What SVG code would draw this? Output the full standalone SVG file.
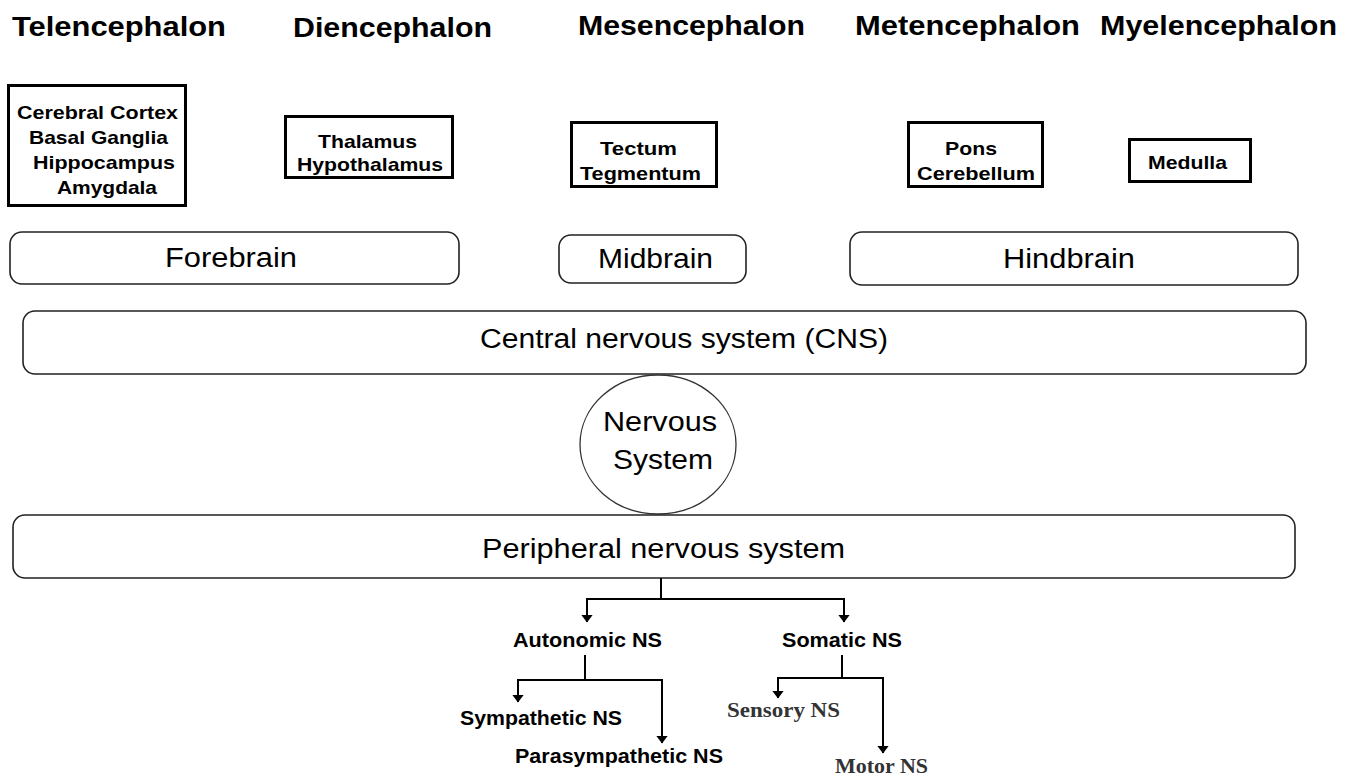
<svg xmlns="http://www.w3.org/2000/svg" width="1357" height="776" viewBox="0 0 1357 776">
<style>
.hdr{font-family:"Liberation Sans",Arial,sans-serif;font-weight:bold;font-size:27px;fill:#000}
.bx{fill:#fff;stroke:#000;stroke-width:3}
.bt{font-family:"Liberation Sans",Arial,sans-serif;font-weight:bold;font-size:19px;fill:#000;text-anchor:start}
.rb{fill:#fff;stroke:#222;stroke-width:1.6}
.rt{font-family:"Liberation Sans",Arial,sans-serif;font-size:27px;fill:#000}
.ln{fill:none;stroke:#000;stroke-width:2}
.lt{font-family:"Liberation Sans",Arial,sans-serif;font-weight:bold;font-size:20px;fill:#000}
.st{font-family:"Liberation Serif","Times New Roman",serif;font-weight:bold;font-size:20px;fill:#333}
</style>
<defs>
<marker id="ah" viewBox="0 0 8 12" refX="7.5" refY="6" markerWidth="8" markerHeight="12" markerUnits="userSpaceOnUse" orient="auto">
<path d="M0,0 L8,6 L0,12 Z" fill="#000"/>
</marker>
</defs>
<rect width="1357" height="776" fill="#fff"/>

<g id="headers">
<text class="hdr" x="12" y="36" textLength="214" lengthAdjust="spacingAndGlyphs">Telencephalon</text>
<text class="hdr" x="293" y="37" textLength="199" lengthAdjust="spacingAndGlyphs">Diencephalon</text>
<text class="hdr" x="578" y="35" textLength="227" lengthAdjust="spacingAndGlyphs">Mesencephalon</text>
<text class="hdr" x="855" y="35" textLength="225" lengthAdjust="spacingAndGlyphs">Metencephalon</text>
<text class="hdr" x="1100" y="35" textLength="237" lengthAdjust="spacingAndGlyphs">Myelencephalon</text>
</g>

<g id="telencephalon-box">
<rect class="bx" x="8.5" y="85.5" width="177" height="120"/>
<text class="bt" x="17" y="119" textLength="161" lengthAdjust="spacingAndGlyphs">Cerebral Cortex</text>
<text class="bt" x="29" y="144" textLength="139" lengthAdjust="spacingAndGlyphs">Basal Ganglia</text>
<text class="bt" x="33" y="169" textLength="142" lengthAdjust="spacingAndGlyphs">Hippocampus</text>
<text class="bt" x="57" y="194" textLength="100" lengthAdjust="spacingAndGlyphs">Amygdala</text>
</g>

<g id="diencephalon-box">
<rect class="bx" x="285.5" y="116.5" width="167" height="61"/>
<text class="bt" x="318" y="148" textLength="99" lengthAdjust="spacingAndGlyphs">Thalamus</text>
<text class="bt" x="297" y="171" textLength="146" lengthAdjust="spacingAndGlyphs">Hypothalamus</text>
</g>

<g id="mesencephalon-box">
<rect class="bx" x="571.5" y="122.5" width="145" height="64"/>
<text class="bt" x="600" y="155" textLength="77" lengthAdjust="spacingAndGlyphs">Tectum</text>
<text class="bt" x="580" y="180" textLength="121" lengthAdjust="spacingAndGlyphs">Tegmentum</text>
</g>

<g id="metencephalon-box">
<rect class="bx" x="908.5" y="122.5" width="134" height="64"/>
<text class="bt" x="945" y="155" textLength="52" lengthAdjust="spacingAndGlyphs">Pons</text>
<text class="bt" x="917" y="180" textLength="118" lengthAdjust="spacingAndGlyphs">Cerebellum</text>
</g>

<g id="myelencephalon-box">
<rect class="bx" x="1129.5" y="139.5" width="121" height="42"/>
<text class="bt" x="1148" y="169" textLength="79" lengthAdjust="spacingAndGlyphs">Medulla</text>
</g>

<g id="forebrain">
<rect class="rb" x="10" y="232" width="449" height="52" rx="12"/>
<text class="rt" x="165" y="267" textLength="132" lengthAdjust="spacingAndGlyphs">Forebrain</text>
</g>

<g id="midbrain">
<rect class="rb" x="559" y="235" width="187" height="48" rx="12"/>
<text class="rt" x="598" y="268" textLength="115" lengthAdjust="spacingAndGlyphs">Midbrain</text>
</g>

<g id="hindbrain">
<rect class="rb" x="850" y="232" width="448" height="53" rx="12"/>
<text class="rt" x="1003" y="268" textLength="132" lengthAdjust="spacingAndGlyphs">Hindbrain</text>
</g>

<g id="cns">
<rect class="rb" x="23" y="311" width="1283" height="63" rx="12"/>
<text class="rt" x="480" y="348" textLength="408" lengthAdjust="spacingAndGlyphs">Central nervous system (CNS)</text>
</g>

<g id="nervous-system">
<ellipse cx="658" cy="444.5" rx="78" ry="69.5" fill="#fff" stroke="#333" stroke-width="1.3"/>
<text class="rt" x="603" y="431" textLength="114" lengthAdjust="spacingAndGlyphs">Nervous</text>
<text class="rt" x="613" y="469" textLength="100" lengthAdjust="spacingAndGlyphs">System</text>
</g>

<g id="pns">
<rect class="rb" x="13" y="515" width="1282" height="63" rx="12"/>
<text class="rt" x="482" y="558" textLength="363" lengthAdjust="spacingAndGlyphs">Peripheral nervous system</text>
</g>

<g id="connectors">
<path class="ln" d="M661,578 V599 M586,599 H845"/>
<path class="ln" d="M587,599 V622" marker-end="url(#ah)"/>
<path class="ln" d="M844,599 V622" marker-end="url(#ah)"/>
<path class="ln" d="M585,655 V680 M517,680 H663"/>
<path class="ln" d="M518,680 V702" marker-end="url(#ah)"/>
<path class="ln" d="M662,680 V743" marker-end="url(#ah)"/>
<path class="ln" d="M842,655 V678 M777,678 H884"/>
<path class="ln" d="M778,678 V698" marker-end="url(#ah)"/>
<path class="ln" d="M883,678 V753" marker-end="url(#ah)"/>
</g>

<g id="autonomic">
<text class="lt" x="513" y="647" textLength="149" lengthAdjust="spacingAndGlyphs">Autonomic NS</text>
</g>
<g id="somatic">
<text class="lt" x="782" y="647" textLength="120" lengthAdjust="spacingAndGlyphs">Somatic NS</text>
</g>
<g id="sympathetic">
<text class="lt" x="460" y="725" textLength="162" lengthAdjust="spacingAndGlyphs">Sympathetic NS</text>
</g>
<g id="parasympathetic">
<text class="lt" x="515" y="763" textLength="208" lengthAdjust="spacingAndGlyphs">Parasympathetic NS</text>
</g>
<g id="sensory">
<text class="st" x="727" y="717" textLength="113" lengthAdjust="spacingAndGlyphs">Sensory NS</text>
</g>
<g id="motor">
<text class="st" x="835" y="773" textLength="93" lengthAdjust="spacingAndGlyphs">Motor NS</text>
</g>
</svg>
